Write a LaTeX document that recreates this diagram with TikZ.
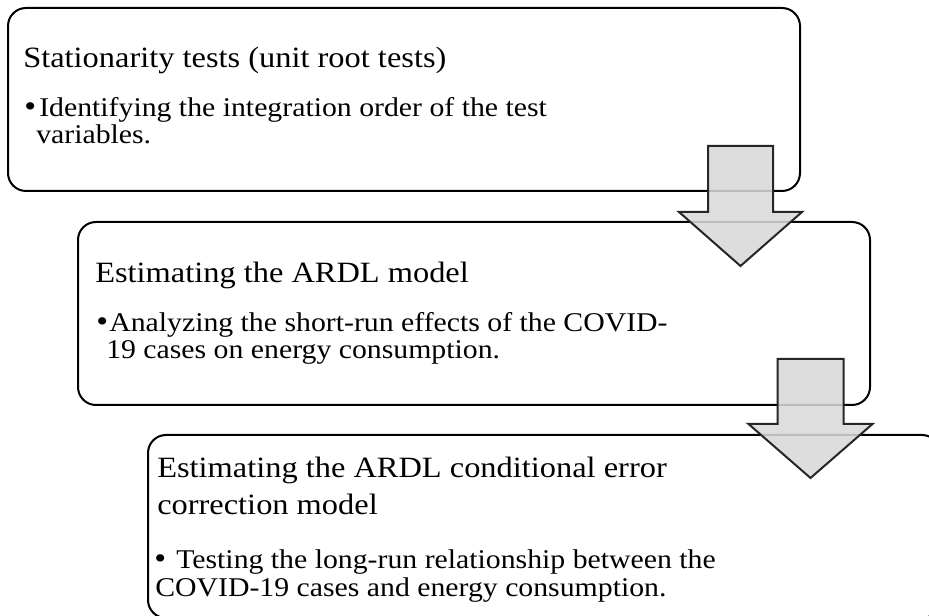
\documentclass[tikz,border=0pt]{standalone}
\usepackage{fontspec}
\setmainfont{Liberation Serif}[FakeStretch=1.1]
\definecolor{arrowfill}{HTML}{D9D9D9}
\definecolor{arrowline}{HTML}{262626}
\begin{document}
\begin{tikzpicture}[x=0.75pt,y=-0.75pt,
  stepbox/.style={draw=black, line width=1.5pt, rounded corners=13.5pt, fill=white,
    minimum width=594pt, minimum height=137.25pt, inner sep=0pt},
  headtext/.style={anchor=base west, inner sep=0pt, font=\fontsize{22.1}{26}\selectfont},
  bullettext/.style={anchor=base west, inner sep=0pt, font=\fontsize{20.3}{24}\selectfont},
  bulletdot/.style={anchor=base west, inner sep=0pt, font=\fontsize{23}{24}\selectfont},
  blockarrow/.style={draw=arrowline, line width=1.5pt, fill=arrowfill, fill opacity=0.87, line join=miter}]
\useasboundingbox (0,0) rectangle (929,616);
\clip (0,0) rectangle (929,616);
% boxes
\node[stepbox] (box1) at (404,99.5) {};
\node[stepbox] (box2) at (474,313.5) {};
\node[stepbox] (box3) at (544,526.5) {};
% box 1 text
\node[headtext] (t1) at (23,68) {Stationarity tests (unit root tests)};
\node[bulletdot] (b1) at (24,117) {\textbullet};
\node[bullettext] (b1a) at (39,117) {Identifying the integration order of the test};
\node[bullettext] (b1b) at (36,144) {variables.};
% box 2 text
\node[headtext] (t2) at (95,283) {Estimating the ARDL model};
\node[bulletdot] (b2) at (96,332) {\textbullet};
\node[bullettext] (b2a) at (109,332) {Analyzing the short-run effects of the COVID-};
\node[bullettext] (b2b) at (106,359) {19 cases on energy consumption.};
% box 3 text
\node[headtext] (t3a) at (157,478) {Estimating the ARDL conditional error};
\node[headtext] (t3b) at (157,515) {correction model};
\node[bulletdot] (b3) at (154,569) {\textbullet};
\node[bullettext] (b3a) at (176,569) {Testing the long-run relationship between the};
\node[bullettext] (b3b) at (155,596) {COVID-19 cases and energy consumption.};
% block arrows
\draw[blockarrow] (708,146) -- (773,146) -- (773,212) -- (802,212) -- (740.5,266) -- (679,212) -- (708,212) -- cycle;
\draw[blockarrow] (777.5,359) -- (843.5,359) -- (843.5,424) -- (872.5,424) -- (810.5,478) -- (748.5,424) -- (777.5,424) -- cycle;
\end{tikzpicture}
\end{document}
